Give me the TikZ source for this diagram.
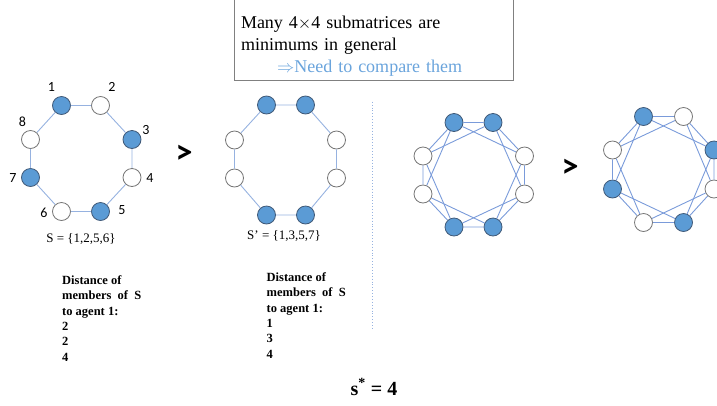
\documentclass[tikz,border=0pt]{standalone}
\usepackage{fontspec}
\setmainfont{Liberation Serif}
\setsansfont{Carlito}
\definecolor{nodeblue}{RGB}{91, 155, 213}
\definecolor{nodeedge}{RGB}{65, 90, 120}
\definecolor{ringgray}{RGB}{118, 118, 118}
\definecolor{linkblue}{RGB}{150, 178, 224}
\definecolor{starblue}{RGB}{122, 155, 218}
\definecolor{hintblue}{RGB}{106, 164, 220}
\definecolor{framegray}{RGB}{128, 128, 128}

\begin{document}
\begin{tikzpicture}[
    x=1pt, y=-1pt,
    % Node styles
    agent/.style={
        circle,
        draw=ringgray,
        fill=white,
        line width=0.8pt,
        minimum size=18pt,
        inner sep=0pt
    },
    member/.style={
        agent,
        draw=nodeedge,
        fill=nodeblue
    },
    link/.style={
        draw=#1,
        line width=0.9pt
    },
    link/.default=linkblue,
    numlabel/.style={
        font=\sffamily\fontsize{14}{14}\selectfont
    },
    setlabel/.style={
        font=\fontsize{13}{15}\selectfont
    },
    distlist/.style={
        font=\bfseries\fontsize{12.5}{15.3}\selectfont,
        align=left,
        anchor=north west,
        inner sep=0pt
    },
    bigger/.style={
        font=\sffamily\bfseries\fontsize{34}{34}\selectfont
    },
    notebox/.style={
        text width=266pt,
        align=left,
        inner xsep=6pt,
        inner ysep=3pt,
        anchor=south,
        font=\fontsize{18}{22}\selectfont
    }
]
\useasboundingbox (0,0) rectangle (717,405);

% ============================================
% NOTE BOX (top, cut by the page edge)
% ============================================
\node[notebox] (note) at (374,80) {
    Many 4$\times$4 submatrices are\\
    minimums in general\\
    \hspace*{36pt}{\color{hintblue}$\Rightarrow$Need to compare them}
};
\draw[framegray, line width=0.8pt] ([yshift=30pt]note.north west) -- (note.south west)
    -- (note.south east) -- ([yshift=30pt]note.north east);

% ============================================
% RING S (left)
% ============================================
\node[member] (a1) at (61.5,105.5) {};
\node[agent]  (a2) at (100.5,105.5) {};
\node[member] (a3) at (132,139.5) {};
\node[agent]  (a4) at (132,177.5) {};
\node[member] (a5) at (100.5,211.5) {};
\node[agent]  (a6) at (61.5,211.5) {};
\node[member] (a7) at (30.5,177.5) {};
\node[agent]  (a8) at (30.5,139.5) {};
\draw[link] (a1) -- (a2) -- (a3) -- (a4) -- (a5) -- (a6) -- (a7) -- (a8) -- (a1);

\node[numlabel] (n1) at (51.5,87) {1};
\node[numlabel] (n2) at (112,87) {2};
\node[numlabel] (n3) at (146,130) {3};
\node[numlabel] (n4) at (150,178) {4};
\node[numlabel] (n5) at (122,210) {5};
\node[numlabel] (n6) at (44,212.5) {6};
\node[numlabel] (n7) at (13,178) {7};
\node[numlabel] (n8) at (22.5,122) {8};

\node[setlabel] (sset) at (81,239) {S = \{1,2,5,6\}};

% ============================================
% RING S' (second)
% ============================================
\node[member] (b1) at (266.5,105) {};
\node[member] (b2) at (305.5,105) {};
\node[agent]  (b3) at (336.5,140) {};
\node[agent]  (b4) at (336.5,178) {};
\node[member] (b5) at (305.5,215) {};
\node[member] (b6) at (266.5,215) {};
\node[agent]  (b7) at (234.5,178) {};
\node[agent]  (b8) at (234.5,140) {};
\draw[link] (b1) -- (b2) -- (b3) -- (b4) -- (b5) -- (b6) -- (b7) -- (b8) -- (b1);

\node[setlabel] (sprime) at (284,236) {S’ = \{1,3,5,7\}};

\node[bigger] (gt1) at (184,154) {>};

% ============================================
% DISTANCE LISTS
% ============================================
\node[distlist] (dist1) at (62,275.5) {Distance of\\members\ \ of\ \ S\\to agent 1:\\2\\2\\4};
\node[distlist] (dist2) at (266.5,272.5) {Distance of\\members\ \ of\ \ S\\to agent 1:\\1\\3\\4};

% separator
\draw[linkblue, dotted, line width=0.9pt] (372.5,101.7) -- (372.5,330);

% ============================================
% RINGS WITH DISTANCE-2 LINKS (right)
% ============================================
\node[member] (c1) at (454,122.5) {};
\node[member] (c2) at (493,122.5) {};
\node[agent]  (c3) at (524.5,156) {};
\node[agent]  (c4) at (524.5,194) {};
\node[member] (c5) at (493,227) {};
\node[member] (c6) at (454,227) {};
\node[agent]  (c7) at (423,194) {};
\node[agent]  (c8) at (423,156) {};
\draw[link=starblue] (c1) -- (c2) -- (c3) -- (c4) -- (c5) -- (c6) -- (c7) -- (c8) -- (c1);
\draw[link=starblue] (c1) -- (c3) -- (c5) -- (c7) -- (c1);
\draw[link=starblue] (c2) -- (c4) -- (c6) -- (c8) -- (c2);

\node[bigger] (gt2) at (570,168.5) {>};

\node[member] (d1) at (643.5,116.5) {};
\node[agent]  (d2) at (683.5,116.5) {};
\node[member] (d3) at (714,150) {};
\node[agent]  (d4) at (714,189) {};
\node[member] (d5) at (683.5,222.5) {};
\node[agent]  (d6) at (643.5,222.5) {};
\node[member] (d7) at (612.5,189) {};
\node[agent]  (d8) at (612.5,150) {};
\draw[link=starblue] (d1) -- (d2) -- (d3) -- (d4) -- (d5) -- (d6) -- (d7) -- (d8) -- (d1);
\draw[link=starblue] (d1) -- (d3) -- (d5) -- (d7) -- (d1);
\draw[link=starblue] (d2) -- (d4) -- (d6) -- (d8) -- (d2);

% ============================================
% RESULT
% ============================================
\node[font=\bfseries\fontsize{20}{22}\selectfont, anchor=base] (result) at (374,395) {s\textsuperscript{*} = 4};

\end{tikzpicture}
\end{document}
